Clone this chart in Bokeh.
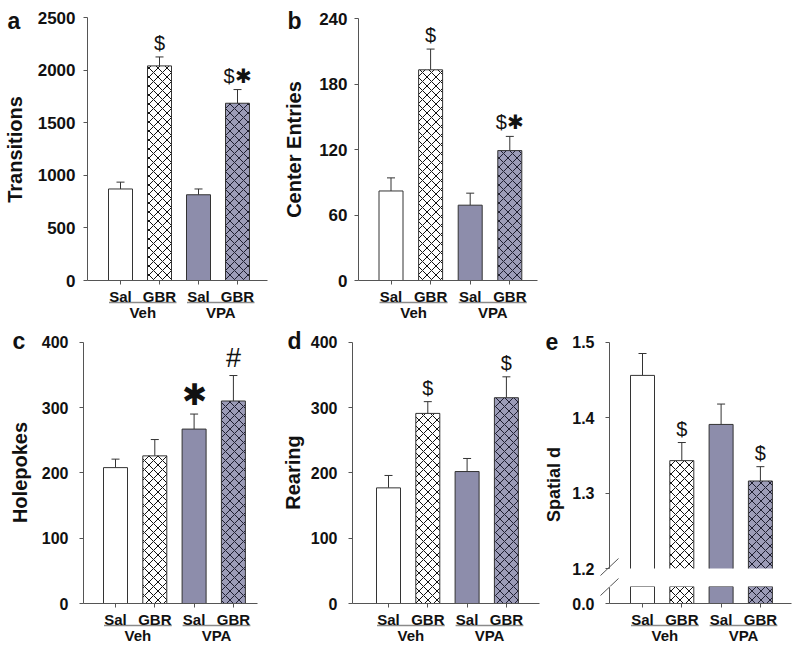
import numpy as np
from bokeh.plotting import figure
from bokeh.models import (ColumnDataSource, Range1d, FixedTicker, Whisker, TeeHead,
                          Label, NumeralTickFormatter)
from bokeh.layouts import row, column
from bokeh.embed import file_html
from bokeh.resources import INLINE
from bokeh.core.properties import value

# ---------------- data ----------------
groups = ["Veh", "Veh", "VPA", "VPA"]
treatments = ["Sal", "GBR", "Sal", "GBR"]

transitions_mean = [870, 2040, 815, 1685]
transitions_sem = [65, 85, 55, 130]
transitions_marks = ["", "$", "", "$\u2731"]

center_mean = [82, 193, 69, 119]
center_sem = [12, 19, 11, 13]
center_marks = ["", "$", "", "$\u2731"]

holepokes_mean = [208, 226, 267, 310]
holepokes_sem = [13, 25, 23, 39]
holepokes_marks = ["", "", "\u2731", "#"]

rearing_mean = [177, 291, 202, 315]
rearing_sem = [19, 18, 20, 32]
rearing_marks = ["", "$", "", "$"]

spatial_mean = [1.456, 1.343, 1.391, 1.316]
spatial_sem = [0.029, 0.024, 0.027, 0.019]
spatial_marks = ["", "$", "", "$"]

ticks_transitions = [0, 500, 1000, 1500, 2000, 2500]
ticks_center = [0, 60, 120, 180, 240]
ticks_holepokes = [0, 100, 200, 300, 400]
ticks_rearing = [0, 100, 200, 300, 400]
ticks_spatial_upper = [1.2, 1.3, 1.4, 1.5]
ticks_spatial_lower = [0.0]

# ---------------- style ----------------
FONT = "Liberation Sans"
AXIS_COLOR = "#555555"
EDGE = "#333333"
TXT = "#111111"
FILLS = ["#ffffff", "#ffffff", "#8d8dab", "#9c9cb8"]
HATCH = [" ", "x", " ", "x"]
HATCH_COLORS = ["#000000", "#111111", "#000000", "#1c1c2e"]
BASE_FIX = 5      # px correction for alphabetic-baseline labels
ROT_FIX = 8       # px correction for rotated titles
xs = list(np.arange(1, len(treatments) + 1))


class Geo:
    """Pixel geometry of one canvas (screen px, page origin top-left)."""
    def __init__(self, ox, oy, W, H, c1, ppx, v0, y0, v1, y1):
        self.ox, self.oy, self.W, self.H = ox, oy, W, H
        self.c1, self.ppx = c1, ppx
        self.v0, self.y0 = v0, y0
        self.ppy = (y0 - y1) / (v1 - v0)

    def X(self, px):
        return 1 + (px - self.c1) / self.ppx

    def Y(self, py):
        return self.v0 + (self.y0 - py) / self.ppy


def base_figure(g, axis_px, right_px, ybounds, tick_size):
    p = figure(width=g.W, height=g.H, output_backend="svg", toolbar_location=None,
               x_range=Range1d(g.X(g.ox), g.X(g.ox + g.W)),
               y_range=Range1d(g.Y(g.oy + g.H), g.Y(g.oy)))
    p.min_border = 0
    p.title.visible = False
    p.outline_line_color = None
    p.grid.grid_line_color = None
    p.background_fill_color = "white"
    p.border_fill_color = "white"
    for ax in (p.xaxis[0], p.yaxis[0]):
        ax.axis_line_color = AXIS_COLOR
        ax.axis_line_width = 1
        ax.major_tick_line_color = AXIS_COLOR
        ax.major_tick_out = 4
        ax.major_tick_in = 0
        ax.minor_tick_line_color = None
        ax.major_label_text_font = FONT
        ax.major_label_text_font_style = "bold"
        ax.major_label_text_color = TXT
    p.yaxis.fixed_location = g.X(axis_px)
    p.yaxis.bounds = ybounds
    p.yaxis.major_label_text_font_size = tick_size
    p.yaxis.major_label_standoff = 9
    p.xaxis.fixed_location = g.v0
    p.xaxis.bounds = (g.X(axis_px), g.X(right_px))
    p.xaxis.ticker = FixedTicker(ticks=xs)
    p.xaxis.major_label_overrides = {int(x): t for x, t in zip(xs, treatments)}
    p.xaxis.major_label_text_font_size = "15px"
    p.xaxis.major_label_standoff = 3
    return p


def add_bars(p, g, mean, sem, marks, bottom, mark_sizes=None, open_bottom=False):
    top = [m + s for m, s in zip(mean, sem)] if sem is not None else mean
    if mark_sizes is None:
        mark_sizes = ["20px"] * len(marks)
    w = 24 / g.ppx
    src = ColumnDataSource(dict(x=xs, mean=mean, top=top, marks=marks, fill=FILLS,
                                hatch=HATCH, hcol=HATCH_COLORS, msize=mark_sizes))
    p.vbar(x="x", width=w, bottom=bottom, top="mean", fill_color="fill",
           hatch_pattern="hatch", hatch_color="hcol", hatch_scale=9, hatch_weight=1,
           line_color=None if open_bottom else EDGE, line_width=1, source=src)
    if open_bottom:
        # outline of the bars without their bottom edge (axis break below)
        p.multi_line(xs=[[x - w / 2, x - w / 2, x + w / 2, x + w / 2] for x in xs],
                     ys=[[bottom, m, m, bottom] for m in mean],
                     line_color=EDGE, line_width=1)
    if sem is not None:
        p.add_layout(Whisker(base="x", lower="mean", upper="top", source=src,
                             dimension="height", line_color=EDGE, line_width=1,
                             lower_head=None,
                             upper_head=TeeHead(size=8, line_color=EDGE, line_width=1)))
        p.text(x="x", y="top", text="marks", source=src, text_font=value(FONT),
               text_font_size="msize", text_align="center", text_baseline="bottom",
               y_offset=-3, text_color=TXT)


def add_group_labels(p, g, zero_px):
    ul0, ul1 = [], []
    for grp in dict.fromkeys(groups):
        gx = [x for x, gg in zip(xs, groups) if gg == grp]
        a = min(gx) - 11.5 / g.ppx
        b = max(gx) + 17.0 / g.ppx
        ul0.append(a)
        ul1.append(b)
        p.add_layout(Label(x=(a + b) / 2, y=g.Y(zero_px + 37 - BASE_FIX), text=grp,
                           text_font=FONT, text_font_style="bold", text_font_size="15px",
                           text_align="center", text_baseline="alphabetic",
                           text_color=TXT))
    yl = g.Y(zero_px + 22)
    p.segment(x0=ul0, y0=[yl] * len(ul0), x1=ul1, y1=[yl] * len(ul1),
              line_color="#8a8a8a", line_width=1.3)


def add_letter(p, g, letter, px, py):
    p.add_layout(Label(x=g.X(px), y=g.Y(py - BASE_FIX), text=letter, text_font=FONT,
                       text_font_style="bold", text_font_size="23px",
                       text_baseline="alphabetic", text_align="left", text_color=TXT))


def add_ytitle(p, g, text, px, py, size="20px"):
    p.add_layout(Label(x=g.X(px - ROT_FIX), y=g.Y(py), text=text, angle=np.pi / 2,
                       text_font=FONT, text_font_style="bold", text_font_size=size,
                       text_align="center", text_baseline="alphabetic", text_color=TXT))


def panel(g, mean, sem, marks, ticks, ymax, axis_px, right_px, zero_px,
          letter, letter_xy, title, title_xy, mark_sizes=None, standoff=9,
          tick_size="16px"):
    p = base_figure(g, axis_px, right_px, (0, ymax), tick_size)
    p.yaxis.ticker = FixedTicker(ticks=ticks)
    p.yaxis.major_label_standoff = standoff
    add_bars(p, g, mean, sem, marks, 0, mark_sizes)
    add_group_labels(p, g, zero_px)
    add_letter(p, g, letter, *letter_xy)
    add_ytitle(p, g, title, *title_xy)
    return p


ga = Geo(0, 0, 278, 325, 120, 39.0, 0, 280, 2500, 17)
pa = panel(ga, transitions_mean, transitions_sem, transitions_marks, ticks_transitions,
           2500, 87, 267, 280, "a", (7, 25), "Transitions", (22, 149), standoff=8,
           tick_size="17px")

gb = Geo(278, 0, 270, 325, 390.5, 39.6, 0, 280, 240, 18)
pb = panel(gb, center_mean, center_sem, center_marks, ticks_center,
           240, 358, 537, 280, "b", (287, 25), "Center Entries", (301, 149), standoff=7,
           tick_size="17px")

gc = Geo(0, 325, 270, 327, 115, 39.3, 0, 603, 400, 341.7)
pc = panel(gc, holepokes_mean, holepokes_sem, holepokes_marks, ticks_holepokes,
           400, 83, 257, 603, "c", (12, 345), "Holepokes", (27, 472),
           mark_sizes=["20px", "20px", "30px", "27px"], standoff=11)

gd = Geo(270, 325, 270, 327, 388, 39.3, 0, 603, 400, 341.7)
pd = panel(gd, rearing_mean, rearing_sem, rearing_marks, ticks_rearing,
           400, 352, 539, 603, "d", (287, 345), "Rearing", (300, 472), standoff=11)

# panel e: broken axis -> two stacked canvases sharing the x mapping
ge_up = Geo(540, 325, 260, 261, 642, 39.3, 1.2, 568, 1.5, 341.7)
pe_up = base_figure(ge_up, 609, 791, (1.2, 1.5), "16px")
pe_up.yaxis.ticker = FixedTicker(ticks=ticks_spatial_upper)
pe_up.yaxis.formatter = NumeralTickFormatter(format="0.0")
pe_up.yaxis.major_label_standoff = 11
pe_up.xaxis.visible = False
add_bars(pe_up, ge_up, spatial_mean, spatial_sem, spatial_marks, 1.2, open_bottom=True)
add_letter(pe_up, ge_up, "e", 545, 346)
add_ytitle(pe_up, ge_up, "Spatial d", 561, 484, size="18px")

ge_low = Geo(540, 586, 260, 66, 642, 39.3, 0.0, 603, 0.1, 603 - 0.1 * ge_up.ppy)
pe_low = base_figure(ge_low, 609, 791, (0.0, ge_low.Y(586.7)), "16px")
pe_low.yaxis.ticker = FixedTicker(ticks=ticks_spatial_lower)
pe_low.yaxis.formatter = NumeralTickFormatter(format="0.0")
pe_low.yaxis.major_label_standoff = 11
add_bars(pe_low, ge_low, spatial_mean, None, spatial_marks, 0)
add_group_labels(pe_low, ge_low, 603)

# axis-break slashes (drawn on both canvases; each shows its own part)
for pp, gg in ((pe_up, ge_up), (pe_low, ge_low)):
    pp.segment(x0=[gg.X(600), gg.X(600)], y0=[gg.Y(575), gg.Y(595)],
               x1=[gg.X(618), gg.X(618)], y1=[gg.Y(558), gg.Y(578)],
               line_color=AXIS_COLOR, line_width=1)

layout = column(row(pa, pb), row(pc, pd, column(pe_up, pe_low)))
open("out.html", "w").write(file_html(layout, INLINE))
